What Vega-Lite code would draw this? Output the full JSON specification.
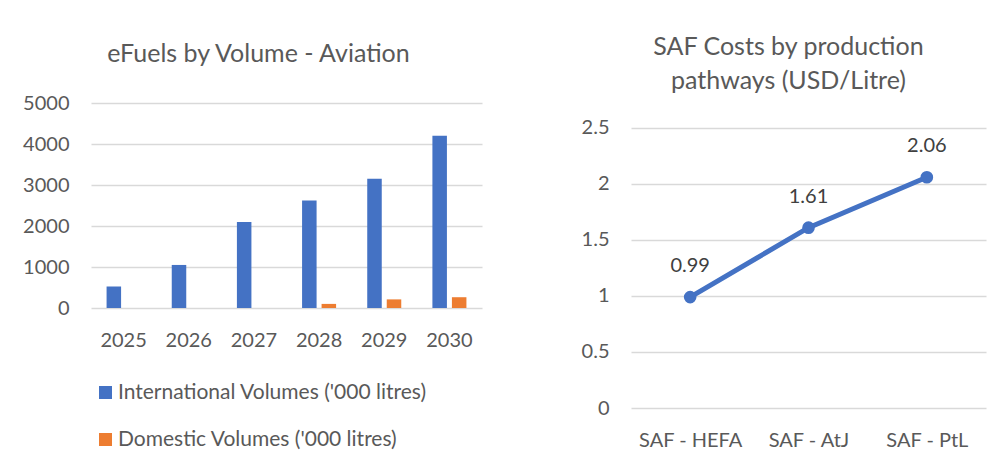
{
  "$schema": "https://vega.github.io/schema/vega-lite/v6.json",
  "padding": {"left": 22, "top": 35, "right": 5, "bottom": 5},
  "background": "white",
  "spacing": 149,
  "bounds": "flush",
  "config": {
    "font": "Lato",
    "view": {"stroke": null},
    "axis": {"labelColor": "#595959", "labelFontSize": 20, "gridColor": "#D9D9D9", "gridWidth": 1.3, "domain": false, "ticks": false, "title": null},
    "title": {"color": "#595959", "fontSize": 25, "fontWeight": "normal", "font": "Lato"},
    "legend": {"labelColor": "#595959", "labelFontSize": 21}
  },
  "datasets": {
    "volumes": [
      {"year": "2025", "series": "International Volumes ('000 litres)", "value": 525},
      {"year": "2025", "series": "Domestic Volumes ('000 litres)", "value": 0},
      {"year": "2026", "series": "International Volumes ('000 litres)", "value": 1050},
      {"year": "2026", "series": "Domestic Volumes ('000 litres)", "value": 0},
      {"year": "2027", "series": "International Volumes ('000 litres)", "value": 2100},
      {"year": "2027", "series": "Domestic Volumes ('000 litres)", "value": 0},
      {"year": "2028", "series": "International Volumes ('000 litres)", "value": 2625},
      {"year": "2028", "series": "Domestic Volumes ('000 litres)", "value": 100},
      {"year": "2029", "series": "International Volumes ('000 litres)", "value": 3150},
      {"year": "2029", "series": "Domestic Volumes ('000 litres)", "value": 210},
      {"year": "2030", "series": "International Volumes ('000 litres)", "value": 4200},
      {"year": "2030", "series": "Domestic Volumes ('000 litres)", "value": 263}
    ],
    "costs": [
      {"pathway": "SAF - HEFA", "cost": 0.99},
      {"pathway": "SAF - AtJ", "cost": 1.61},
      {"pathway": "SAF - PtL", "cost": 2.06}
    ]
  },
  "hconcat": [
    {
      "width": 391,
      "height": 205,
      "data": {"name": "volumes"},
      "title": {"text": "eFuels by Volume - Aviation", "offset": 6, "dx": -28, "baseline": "alphabetic"},
      "mark": {"type": "bar"},
      "encoding": {
        "x": {"field": "year", "type": "nominal", "scale": {"paddingInner": 0.478, "paddingOuter": 0.239}, "axis": {"labelAngle": 0, "labelPadding": 22}},
        "xOffset": {"field": "series", "type": "nominal", "sort": ["International Volumes ('000 litres)", "Domestic Volumes ('000 litres)"], "scale": {"paddingInner": 0.256}},
        "y": {"field": "value", "type": "quantitative", "scale": {"domain": [0, 5000], "nice": false}, "axis": {"values": [0, 1000, 2000, 3000, 4000, 5000], "format": "d", "labelPadding": 22}},
        "color": {"field": "series", "type": "nominal", "sort": ["International Volumes ('000 litres)", "Domestic Volumes ('000 litres)"], "scale": {"domain": ["International Volumes ('000 litres)", "Domestic Volumes ('000 litres)"], "range": ["#4472C4", "#ED7D31"]},
          "legend": {"title": null, "orient": "none", "legendX": 4, "legendY": 279, "padding": 0, "direction": "vertical", "symbolType": "square", "symbolSize": 169, "symbolStrokeWidth": 0, "labelLimit": 500, "labelOffset": 2, "rowPadding": 25}}
      }
    },
    {
      "width": 355,
      "height": 305,
      "data": {"name": "costs"},
      "title": {"text": ["SAF Costs by production", "pathways (USD/Litre)"], "lineHeight": 34, "offset": -11, "dx": -20, "baseline": "alphabetic"},
      "encoding": {
        "x": {"field": "pathway", "type": "ordinal", "sort": null, "scale": {"type": "point", "padding": 0.5}, "axis": {"labelAngle": 0, "labelPadding": 22}},
        "y": {"field": "cost", "type": "quantitative", "scale": {"domain": [0, 2.7232], "nice": false}, "axis": {"values": [0, 0.5, 1, 1.5, 2, 2.5], "format": "~g", "labelPadding": 22}}
      },
      "layer": [
        {"mark": {"type": "line", "color": "#4472C4", "strokeWidth": 5}},
        {"mark": {"type": "point", "filled": true, "size": 160, "color": "#4472C4", "opacity": 1}},
        {"mark": {"type": "text", "dy": -31, "fontSize": 20, "color": "#404040"}, "encoding": {"text": {"field": "cost", "type": "quantitative", "format": ".2f"}}}
      ]
    }
  ]
}
